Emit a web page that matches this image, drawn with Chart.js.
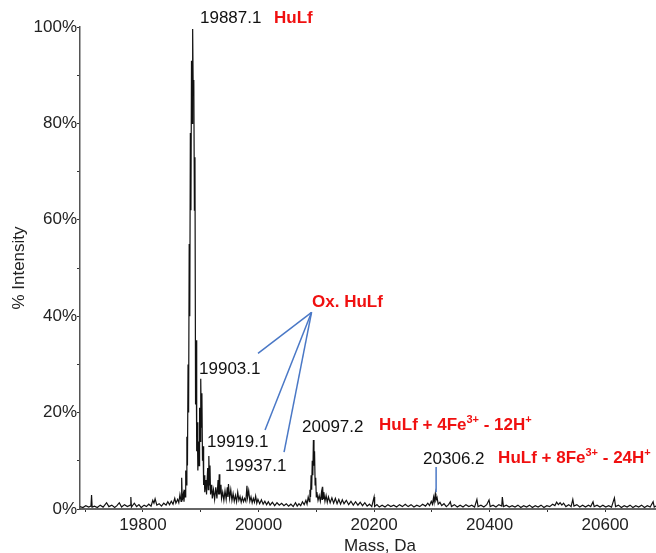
<!DOCTYPE html>
<html>
<head>
<meta charset="utf-8">
<script src="https://cdn.jsdelivr.net/npm/chart.js@4.4.1/dist/chart.umd.min.js"></script>
<style>
  html, body { margin: 0; padding: 0; background: #fff; }
  #wrap { width: 656px; height: 553px; position: relative; }
</style>
</head>
<body>
<div id="wrap"><canvas id="c" width="656" height="553"></canvas></div>
<script>
// ---- data ----
const masses = [
 19691,19696,19701,19706,19710,19711,19712,19716,19721,19726,19731,19737,19741,19746,19751,19755,19759,19763,19768,19773,19778,19779,19780,19785,19789,19793,19797,19802,19806,19810,19814,19817,19819,19821,19824,19828,19832,19836,19840,19843,19846,19849,19852,19855,19857,19860,19862,19864,19866,19867,19868,19870,19871,19872,
 19873,19874,19875,19876,19877,19878,19879,19880,19881,19882,19883,19884,19885,19886,19887,19888,19889,19890,19891,19892,19893,19894,19895,19896,19897,19898,19899,19900,19901,19902,19903,19904,19905,19906,19907,19909,19910,19912,19913,19914,19915,19916,19917,19919,19920,19922,19924,19926,19928,19930,19931,19932,19933,19935,19936,19938,19940,19942,19944,19946,19947,19948,19950,19952,19954,19956,19958,19960,19962,19964,19966,19968,19970,19972,19974,19976,19978,19980,19981,19983,19985,19987,19989,19991,19993,19995,19997,19999,
 20002,20005,20008,20011,20014,20017,20020,20024,20028,20032,20036,20040,20044,20048,20052,20056,20060,20064,20067,20070,20073,20076,20079,20082,20084,20086,20088,20089,20090,20091,20092,20093,20094,20095,20096,20097,20098,20099,20100,20101,20103,20105,20107,20109,20110,20111,20112,20113,20115,20117,20119,20121,20124,20127,20130,20133,20136,20139,20142,20145,20148,20152,20156,20160,20164,20168,20172,20176,20180,20184,20188,20192,20196,20200,20201,20205,20209,20214,20219,20224,20229,20234,20239,20244,20249,20254,20259,20264,20269,20274,20279,20284,20289,20293,20296,20299,20301,20303,20304,20306,20307,20309,20311,20314,20317,20321,20325,20329,20332,20334,20339,20344,20349,20354,20359,20364,20369,20374,20378,20380,20385,20390,20395,20399,20401,20406,20411,20416,20421,20422,20424,20429,20434,20439,20444,20449,20454,20459,20464,20469,20474,20479,20484,20489,20494,20499,20504,20509,20513,20516,20519,20522,20525,20528,20532,20537,20541,20544,20546,20551,20556,20561,20566,20571,20575,20579,20581,20586,20591,20596,20601,20606,20611,20616,20618,20623,20628,20633,20638,20643,20648,20653,20658,20663,20668,20673,20678,20683,20685,20688
];
const intensities = [
 0.5,0.3,0.7,0.4,0.6,2.9,0.4,0.6,0.3,0.8,0.4,1.3,0.5,0.8,0.3,0.7,1.3,0.4,0.9,0.5,0.8,2.5,0.4,1.2,0.5,0.9,0.3,0.8,0.5,1.0,0.6,1.8,1.2,2.1,0.8,1.1,0.6,1.2,0.8,1.5,0.9,1.6,1.0,2.2,1.2,2.0,1.3,3.0,1.6,6.5,1.8,3.2,1.5,4.0,
 2.5,8,5,15,9,30,20,55,40,78,62,93,80,99.6,86,89,62,73,21.7,35,12,18,8,14,9,21,14,27,17,24,10,13,5,7,3.5,6,3,8.5,4,11,5,9,3,5,2.2,4,2,4.5,2.2,6,3,7.2,3,5,2.2,3.5,1.8,3.8,2,4.5,2.5,5.2,2.2,4,1.8,3.2,1.6,2.8,1.5,3.5,1.8,2.6,1.4,2.4,1.5,2.2,1.6,4.8,2.4,3.8,1.6,2.5,1.3,2.2,1.4,2.7,1.2,2.0,
 1.1,1.9,1.0,1.6,0.9,1.5,0.8,1.4,0.7,1.3,0.8,1.2,0.7,1.1,0.6,1.0,0.5,1.3,0.6,1.1,0.7,1.5,0.9,1.8,1.0,2.5,1.5,4,2.5,7,4,10,7,14.3,9,12,5,6.5,2.5,3.5,1.8,2.8,1.6,3.5,2,4.6,2.2,3.5,1.6,2.8,1.4,2.5,1.3,2.3,1.2,2.2,1.1,2.0,1.0,1.9,1.1,1.8,0.9,1.6,0.8,1.5,0.8,1.4,0.7,1.3,0.6,1.0,0.5,2.5,0.5,0.9,0.4,0.8,0.4,0.9,0.5,0.8,0.4,0.9,0.5,1.0,0.5,0.9,0.4,0.8,0.5,1.0,0.6,1.2,0.7,1.6,1.0,2.4,1.4,3.2,1.8,2.4,1.0,1.4,0.7,1.1,0.5,0.9,1.5,0.5,0.9,0.4,0.8,0.4,0.9,0.5,0.8,0.4,2.0,0.5,0.8,0.4,0.9,1.9,0.5,0.8,0.4,0.9,0.6,2.5,0.5,0.8,0.4,0.7,0.4,0.8,0.3,0.7,0.4,0.8,0.3,0.7,0.4,0.8,0.3,0.7,0.5,1.0,0.7,1.4,0.9,1.3,0.8,1.2,0.5,0.9,0.5,2.0,0.6,0.9,0.4,0.8,0.4,0.8,0.5,1.5,0.5,0.8,0.4,0.8,0.4,0.7,0.4,2.3,0.5,0.8,0.3,0.7,0.4,0.8,0.3,0.7,0.4,0.8,0.3,0.7,0.4,1.5,0.4,0.6
];
const xTickValues = [19700,19800,19900,20000,20100,20200,20300,20400,20500,20600];
const yTickValues = [0,10,20,30,40,50,60,70,80,90,100];
const xRange = [19691, 20688];

// peak annotations: [mass, intensity] anchor of text left edge
const peakLabels = ['19887.1','19903.1','19919.1','19937.1','20097.2','20306.2'];
const peakLabelMass = [19898.7,19897,19910.8,19942,20075.3,20284.8];
const peakLabelInt  = [101.7,29.0,13.9,8.9,17.0,10.4];
// assignment annotations (red), superscript parts marked with ^
const assignLabels = [['HuLf'],['Ox. HuLf'],['HuLf + 4Fe','^3+',' - 12H','^+'],['HuLf + 8Fe','^3+',' - 24H','^+']];
const assignMass = [20026.8,20092.6,20208.7,20414.7];
const assignInt  = [101.7,42.9,17.4,10.6];
// leader lines (blue)
const leaderFrom = [[20091.8,40.8],[20091.8,40.8],[20091.8,40.8],[20307.4,8.7]];
const leaderTo   = [[19999.1,32.3],[20011.3,16.4],[20044.2,11.8],[20307.4,3.5]];

const FONT = '"Liberation Sans", Arial, Helvetica, sans-serif';

const annotPlugin = {
  id: 'annot',
  afterDraw(chart) {
    const {ctx, scales: {x, y}, chartArea} = chart;
    ctx.save();
    ctx.strokeStyle = '#4a78c6';
    ctx.lineWidth = 1.5;
    for (let i = 0; i < leaderFrom.length; i++) {
      ctx.beginPath();
      ctx.moveTo(x.getPixelForValue(leaderFrom[i][0]), y.getPixelForValue(leaderFrom[i][1]));
      ctx.lineTo(x.getPixelForValue(leaderTo[i][0]), y.getPixelForValue(leaderTo[i][1]));
      ctx.stroke();
    }
    ctx.textBaseline = 'middle';
    ctx.textAlign = 'left';
    ctx.fillStyle = '#111';
    ctx.font = '17px ' + FONT;
    for (let i = 0; i < peakLabels.length; i++) {
      ctx.fillText(peakLabels[i], x.getPixelForValue(peakLabelMass[i]), y.getPixelForValue(peakLabelInt[i]));
    }
    ctx.fillStyle = '#f01010';
    for (let i = 0; i < assignLabels.length; i++) {
      let px = x.getPixelForValue(assignMass[i]);
      const py = y.getPixelForValue(assignInt[i]);
      for (const part of assignLabels[i]) {
        if (part.startsWith('^')) {
          ctx.font = 'bold 11px ' + FONT;
          const t = part.slice(1);
          ctx.fillText(t, px, py - 5);
          px += ctx.measureText(t).width;
        } else {
          ctx.font = 'bold 17px ' + FONT;
          ctx.fillText(part, px, py);
          px += ctx.measureText(part).width;
        }
      }
    }
    ctx.fillStyle = '#222';
    ctx.font = '17px ' + FONT;
    ctx.textAlign = 'center';
    ctx.textBaseline = 'alphabetic';
    ctx.fillText('Mass, Da', (chartArea.left + chartArea.right) / 2 + 12, 551);
    ctx.restore();
  }
};

const pts = masses.map((m, i) => ({x: m, y: intensities[i]}));

new Chart(document.getElementById('c'), {
  type: 'line',
  data: {
    datasets: [{
      data: pts,
      borderColor: '#111',
      borderWidth: 1.2,
      pointRadius: 0,
      tension: 0,
      fill: false
    }]
  },
  options: {
    responsive: false,
    animation: false,
    layout: { padding: { top: 27, right: 0, left: 0, bottom: 0 } },
    plugins: { legend: { display: false }, tooltip: { enabled: false } },
    scales: {
      x: {
        type: 'linear',
        min: xRange[0], max: xRange[1],
        afterBuildTicks: s => { s.ticks = xTickValues.map(v => ({value: v})); },
        afterFit: s => { s.height = 44; },
        ticks: {
          autoSkip: false, maxRotation: 0, padding: 3,
          color: '#222', font: { size: 17, family: FONT },
          callback: v => (v % 200 === 0 ? String(v) : '')
        },
        grid: { drawOnChartArea: false, drawTicks: true, tickLength: 3, color: '#333' },
        border: { display: true, color: '#666', width: 2 }
      },
      y: {
        min: 0, max: 100,
        afterBuildTicks: s => { s.ticks = yTickValues.map(v => ({value: v})); },
        afterFit: s => { s.width = 80; },
        ticks: {
          autoSkip: false, padding: 0,
          color: '#222', font: { size: 17, family: FONT },
          callback: v => (v % 20 === 0 ? v + '%' : '')
        },
        grid: { drawOnChartArea: false, drawTicks: true, tickLength: 3, color: '#333' },
        border: { display: true, color: '#555', width: 1.5 },
        title: {
          display: true, text: '% Intensity', color: '#222',
          font: { size: 17, family: FONT },
          padding: { top: 9, bottom: 0 }
        }
      }
    }
  },
  plugins: [annotPlugin]
});
</script>
</body>
</html>
